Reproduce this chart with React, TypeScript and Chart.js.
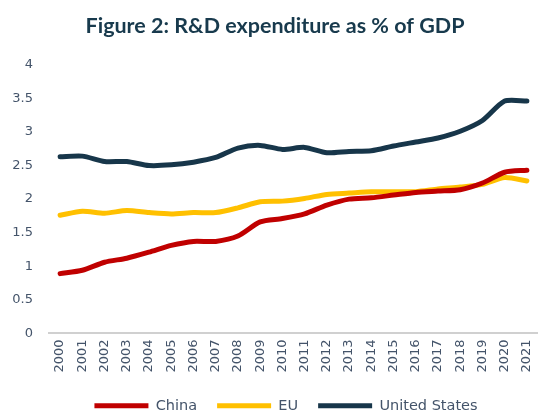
import React, { useEffect, useRef } from "react";
import { Chart, registerables } from "chart.js";

Chart.register(...registerables);

const years = ["2000","2001","2002","2003","2004","2005","2006","2007","2008","2009","2010","2011","2012","2013","2014","2015","2016","2017","2018","2019","2020","2021"];
const china = [0.89,0.94,1.06,1.12,1.21,1.31,1.37,1.37,1.45,1.66,1.71,1.78,1.91,2.0,2.02,2.06,2.1,2.12,2.14,2.24,2.4,2.43];
const eu = [1.76,1.82,1.79,1.83,1.8,1.78,1.8,1.8,1.87,1.96,1.97,2.01,2.07,2.09,2.11,2.11,2.11,2.15,2.18,2.22,2.32,2.27];
const us = [2.63,2.64,2.56,2.56,2.5,2.51,2.55,2.62,2.76,2.8,2.74,2.77,2.69,2.71,2.72,2.79,2.85,2.91,3.01,3.17,3.46,3.46];

const FONT = "DejaVu Sans";
const TEXT = "#44546A";

const legendShift = {
  id: "legendShift",
  afterLayout(chart: any) {
    const l = chart.legend;
    if (l) { l.left += 11; l.right += 11; }
  },
};

export default function App() {
  const ref = useRef<HTMLCanvasElement | null>(null);
  useEffect(() => {
    if (!ref.current) return;
    const mk = (label: string, data: number[], color: string) => ({
      label, data, borderColor: color, backgroundColor: color,
      borderWidth: 5, pointRadius: 0, tension: 0.25,
      borderCapStyle: "round" as const, borderJoinStyle: "round" as const,
      pointStyle: "line",
    });
    const chart = new Chart(ref.current, {
      type: "line",
      data: {
        labels: years,
        datasets: [
          mk("China", china, "#C00000"),
          mk("EU", eu, "#FFC000"),
          mk("United States", us, "#17364A"),
        ],
      },
      plugins: [legendShift],
      options: {
        animation: false,
        responsive: true,
        maintainAspectRatio: false,
        layout: { padding: { left: 12, right: 0, top: 13, bottom: -11 } },
        plugins: {
          title: {
            display: true,
            text: "Figure 2: R&D expenditure as % of GDP",
            color: "#183A4D",
            font: { family: "Lato", size: 21.5, weight: "bold" },
            padding: { top: 0, bottom: 26 },
          },
          legend: {
            position: "bottom",
            labels: {
              usePointStyle: true,
              pointStyleWidth: 54,
              color: TEXT,
              font: { family: FONT, size: 14.5 },
              padding: 20,
            },
          },
          tooltip: { enabled: false },
        },
        scales: {
          x: {
            offset: true,
            grid: { display: false, drawTicks: false },
            border: { display: true, color: "#D0D0D0", width: 2 },
            afterFit: (s: any) => { s.paddingLeft = 0; s.paddingRight = 0; },
            ticks: {
              color: TEXT, font: { family: FONT, size: 13 },
              maxRotation: 90, minRotation: 90, padding: 6, autoSkip: false,
            },
          },
          y: {
            min: 0, max: 4,
            grid: { display: false, drawTicks: false },
            border: { display: false },
            afterFit: (s: any) => { s.width = 37; },
            ticks: {
              stepSize: 0.5, color: TEXT, font: { family: FONT, size: 13 },
              padding: 16,
              callback: (v: any) => String(Number(v)),
            },
          },
        },
      },
    });
    return () => chart.destroy();
  }, []);
  return (
    <div style={{ position: "fixed", left: 0, top: 0, width: 538, height: 412, background: "#fff" }}>
      <canvas ref={ref} />
    </div>
  );
}
